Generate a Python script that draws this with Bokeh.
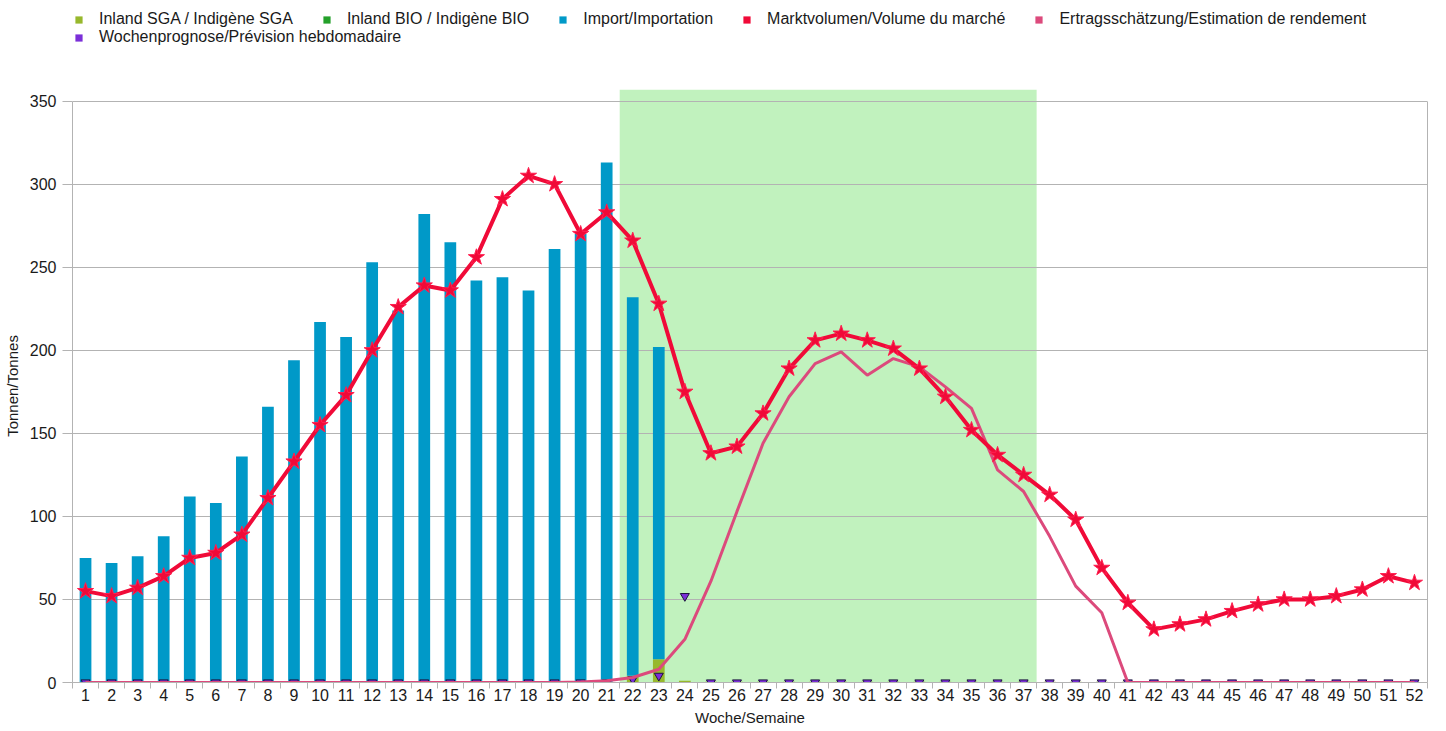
import numpy as np
from bokeh.plotting import figure
from bokeh.layouts import column
from bokeh.models import (ColumnDataSource, FixedTicker, LinearAxis, Legend,
                          LegendItem, BoxAnnotation, Range1d)
from bokeh.embed import file_html
from bokeh.resources import INLINE

# ---------------- data ----------------
weeks = list(range(1, 53))
week_labels = [str(w) for w in weeks]

inland_sga = [0, 0, 0, 0, 0, 0, 0, 0, 0, 0, 0, 0, 0, 0, 0, 0, 0, 0, 0, 0,
              0, 4, 14, 1, 0.5, 0.5, 0.5, 0.5, 0.5, 0.5, 0.5, 0.5, 0.5, 0.5, 0.5, 0.5,
              0.5, 0.5, 0.5, 0.5, 0.5, 0, 0, 0, 0, 0, 0, 0, 0, 0, 0, 0]
inland_bio = [0] * 52
import_vals = [75, 72, 76, 88, 112, 108, 136, 166, 194, 217, 208, 253, 224, 282,
               265, 242, 244, 236, 261, 270, 313, 228, 188, 0, 0, 0, 0, 0, 0, 0,
               0, 0, 0, 0, 0, 0, 0, 0, 0, 0, 0, 0, 0, 0, 0, 0, 0, 0, 0, 0, 0, 0]
marktvolumen = [55, 52, 57, 64, 75, 78, 89, 111, 133, 155, 173, 200, 226, 239,
                236, 256, 291, 305, 300, 270, 283, 266, 228, 175, 138, 142, 162,
                189, 206, 210, 206, 201, 189, 172, 152, 137, 125, 113, 98, 69, 48,
                32, 35, 38, 43, 47, 50, 50, 52, 56, 64, 60]
ertrag = [0, 0, 0, 0, 0, 0, 0, 0, 0, 0, 0, 0, 0, 0, 0, 0, 0, 0, 0, 0.3, 1, 3,
          8, 26, 61, 103, 144, 172, 192, 199, 185, 195, 190, 178, 165, 128, 115,
          88, 58, 42, 0, 0, 0, 0, 0, 0, 0, 0, 0, 0, 0, 0]
wochenprognose = [0, 0, 0, 0, 0, 0, 0, 0, 0, 0, 0, 0, 0, 0, 0, 0, 0, 0, 0, 0, 0,
                  2, 4, 52, 0, 0, 0, 0, 0, 0, 0, 0, 0, 0, 0, 0, 0, 0, 0, 0, 0, 0,
                  0, 0, 0, 0, 0, 0, 0, 0, 0, 0]
season_first_week = 22
season_last_week = 37
y_ticks = [0, 50, 100, 150, 200, 250, 300, 350]

series_names = ["Inland SGA / Indigène SGA", "Inland BIO / Indigène BIO",
                "Import/Importation", "Marktvolumen/Volume du marché",
                "Ertragsschätzung/Estimation de rendement",
                "Wochenprognose/Prévision hebdomadaire"]

# ---------------- style ----------------
C_SGA = "#97b82c"
C_BIO = "#24a02a"
C_IMP = "#0099c8"
C_MKT = "#f00a38"
C_ERT = "#dc4a7c"
C_WOP = "#7b2fd8"
C_BAND = "#c1f2be"
C_GRID = "#b3b3b3"
FONT = "Liberation Sans"
TXT = "#1a1a1a"

sga = np.array(inland_sga, dtype=float)
bio = np.array(inland_bio, dtype=float)
imp = np.array(import_vals, dtype=float)

src = ColumnDataSource(dict(
    week=weeks,
    sga_top=sga,
    bio_bottom=sga, bio_top=sga + bio,
    imp_bottom=sga + bio, imp_top=sga + bio + imp,
    markt=marktvolumen, ertrag=ertrag, prog=wochenprognose,
))

LEG_H = 89
p = figure(width=1446, height=731 - LEG_H,
           x_range=Range1d(0.5, 52.5), y_range=Range1d(0, 357),
           output_backend="svg", toolbar_location=None,
           min_border_left=71, min_border_right=19,
           min_border_top=0, min_border_bottom=49)
p.outline_line_color = None
p.background_fill_color = "white"
p.border_fill_color = "white"

# season band
band = BoxAnnotation(left=season_first_week - 0.5, right=season_last_week + 0.5,
                     fill_color=C_BAND, fill_alpha=1.0, line_color=None,
                     level="image")
p.add_layout(band)

# grid
p.xgrid.grid_line_color = None
p.ygrid.ticker = FixedTicker(ticks=y_ticks[1:])
p.ygrid.grid_line_color = C_GRID
p.ygrid.grid_line_width = 1

# axes
xa = p.xaxis[0]
xa.ticker = FixedTicker(ticks=weeks, minor_ticks=[w - 0.5 for w in weeks] + [weeks[-1] + 0.5])
xa.major_label_overrides = {w: l for w, l in zip(weeks, week_labels)}
xa.major_tick_out = 0
xa.major_tick_in = 0
xa.minor_tick_out = 6
xa.minor_tick_in = 0
xa.minor_tick_line_color = C_GRID
xa.axis_line_color = C_GRID
xa.major_label_standoff = 0
xa.major_label_text_font = FONT
xa.major_label_text_font_size = "16px"
xa.major_label_text_color = TXT
xa.axis_label = "Woche/Semaine"
xa.axis_label_standoff = 5
xa.axis_label_text_font = FONT
xa.axis_label_text_font_size = "15px"
xa.axis_label_text_font_style = "normal"
xa.axis_label_text_color = TXT

ya = p.yaxis[0]
ya.ticker = FixedTicker(ticks=y_ticks)
ya.bounds = (0, 350)
ya.major_tick_out = 10
ya.major_tick_in = 0
ya.minor_tick_out = 0
ya.minor_tick_in = 0
ya.major_tick_line_color = C_GRID
ya.axis_line_color = C_GRID
ya.major_label_standoff = 6
ya.major_label_text_font = FONT
ya.major_label_text_font_size = "16px"
ya.major_label_text_color = TXT
ya.axis_label = "Tonnen/Tonnes"
ya.axis_label_standoff = 6
ya.axis_label_text_font = FONT
ya.axis_label_text_font_size = "15px"
ya.axis_label_text_font_style = "normal"
ya.axis_label_text_color = TXT

ra = LinearAxis(bounds=(0, 350), ticker=FixedTicker(ticks=[]),
                major_tick_out=0, major_tick_in=0, minor_tick_out=0, minor_tick_in=0,
                major_label_text_font_size="0px", axis_line_color=C_GRID)
p.add_layout(ra, "right")

# bars (stacked)
BW = 0.45
p.vbar(x="week", bottom=0, top="sga_top", width=BW, source=src,
       fill_color=C_SGA, line_color=None)
p.vbar(x="week", bottom="bio_bottom", top="bio_top", width=BW, source=src,
       fill_color=C_BIO, line_color=None)
p.vbar(x="week", bottom="imp_bottom", top="imp_top", width=BW, source=src,
       fill_color=C_IMP, line_color=None)

# weekly forecast markers
p.scatter(x="week", y="prog", source=src, marker="inverted_triangle", size=9,
          fill_color=C_WOP, line_color="#1c1440", line_width=1)

# yield estimate
p.line(x="week", y="ertrag", source=src, line_width=3, line_color=C_ERT)

# market volume
p.line(x="week", y="markt", source=src, line_width=4, line_color=C_MKT)
p.scatter(x="week", y="markt", source=src, marker="star", size=17,
          fill_color=C_MKT, line_color="#ff2050", line_width=1)

# ---------------- legend strip (separate figure above the chart) ----------------
lf = figure(width=1446, height=LEG_H, output_backend="svg", toolbar_location=None,
            x_range=Range1d(0.5, 52.5), y_range=Range1d(0, 357),
            x_axis_location=None, y_axis_location=None, min_border=0)
lf.grid.visible = False
lf.outline_line_color = None
lf.background_fill_color = "white"
lf.border_fill_color = "white"

swatch_cols = [("sga_top", C_SGA), ("bio_top", C_BIO), ("imp_top", C_IMP),
               ("markt", C_MKT), ("ertrag", C_ERT), ("prog", C_WOP)]
swatches = []
for col, colr in swatch_cols:
    r = lf.vbar(x="week", top=col, width=BW, source=src, fill_color=colr,
                line_color=None, visible=False)
    swatches.append(r)

def make_legend(items, loc):
    return Legend(items=items, orientation="horizontal", location=loc,
                  background_fill_alpha=0, border_line_color=None,
                  padding=0, margin=0, spacing=29, label_standoff=16,
                  glyph_width=9, glyph_height=9, label_height=19,
                  inactive_fill_alpha=0,
                  label_text_font=FONT, label_text_font_size="16px",
                  label_text_color=TXT)

LEG_X = 2
leg1 = make_legend([LegendItem(label=series_names[i], renderers=[swatches[i]])
                    for i in range(5)], (LEG_X, LEG_H - 28.5))
leg2 = make_legend([LegendItem(label=series_names[5], renderers=[swatches[5]])],
                   (LEG_X, LEG_H - 46.5))
lf.add_layout(leg1)
lf.add_layout(leg2)

layout = column(lf, p, spacing=0)
open("out.html", "w").write(file_html(layout, INLINE))
